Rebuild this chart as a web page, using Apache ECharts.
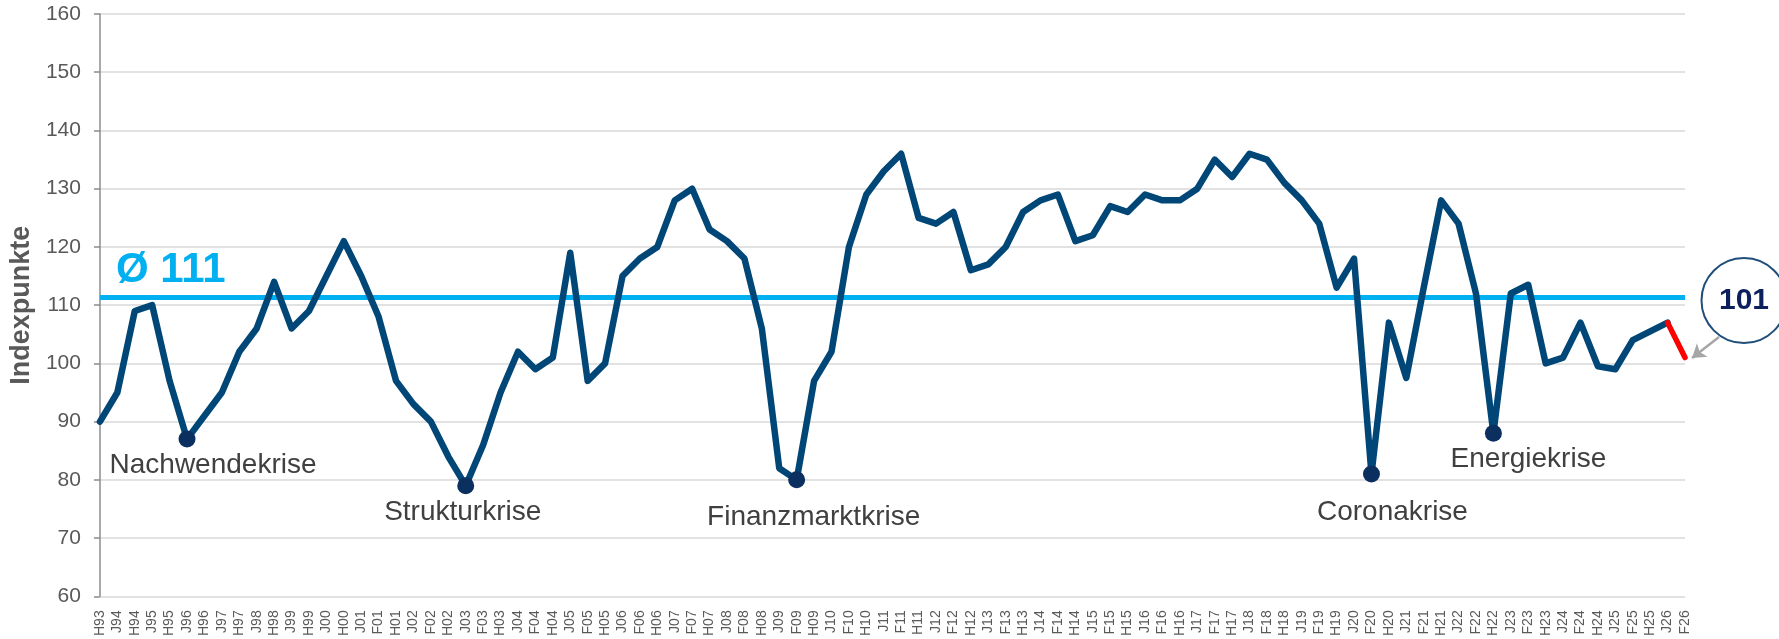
<!DOCTYPE html>
<html>
<head>
<meta charset="utf-8">
<script src="https://cdn.jsdelivr.net/npm/echarts@6/dist/echarts.min.js"></script>
<style>
  html, body { margin: 0; padding: 0; background: #fff; }
  #chart { width: 1779px; height: 639px; }
</style>
</head>
<body>
<div id="chart"></div>
<script>
// Halbjahres-/Quartalsstichtage (J = Jahresbeginn, F = Frühjahr, H = Herbst)
var categories = ['H93', 'J94', 'H94', 'J95', 'H95', 'J96', 'H96', 'J97', 'H97', 'J98', 'H98', 'J99', 'H99', 'J00', 'H00',
  'J01', 'F01', 'H01', 'J02', 'F02', 'H02', 'J03', 'F03', 'H03', 'J04', 'F04', 'H04', 'J05', 'F05', 'H05',
  'J06', 'F06', 'H06', 'J07', 'F07', 'H07', 'J08', 'F08', 'H08', 'J09', 'F09', 'H09', 'J10', 'F10', 'H10',
  'J11', 'F11', 'H11', 'J12', 'F12', 'H12', 'J13', 'F13', 'H13', 'J14', 'F14', 'H14', 'J15', 'F15', 'H15',
  'J16', 'F16', 'H16', 'J17', 'F17', 'H17', 'J18', 'F18', 'H18', 'J19', 'F19', 'H19', 'J20', 'F20', 'H20',
  'J21', 'F21', 'H21', 'J22', 'F22', 'H22', 'J23', 'F23', 'H23', 'J24', 'F24', 'H24', 'J25', 'F25', 'H25',
  'J26', 'F26'];

// Indexpunkte
var values = [90, 95, 109, 110, 97, 87, 91, 95, 102, 106, 114, 106, 109, 115, 121,
  115, 108, 97, 93, 90, 84, 79, 86, 95, 102, 99, 101, 119, 97, 100,
  115, 118, 120, 128, 130, 123, 121, 118, 106, 82, 80, 97, 102, 120, 129,
  133, 136, 125, 124, 126, 116, 117, 120, 126, 128, 129, 121, 122, 127, 126,
  129, 128, 128, 130, 135, 132, 136, 135, 131, 128, 124, 113, 118, 81, 107,
  97.5, 113, 128, 124, 112, 88, 112, 113.5, 100, 101, 107, 99.5, 99, 104, 105.5,
  107, 101];

// Durchschnitt
var average = 111.3;
var averageLabel = 'Ø 111';

// Krisen
var crisisCats = ['J96', 'J03', 'F09', 'F20', 'H22'];
var crisisNames = ['Nachwendekrise', 'Strukturkrise', 'Finanzmarktkrise', 'Coronakrise', 'Energiekrise'];

// y-Achse
var yMin = 60, yMax = 160, yStep = 10;

var FONT = '"Liberation Sans", Arial, sans-serif';
var labelOffsets = [[26, 26], [-3, 27], [17, 37], [21, 38], [35, 26]];

var last = values.length - 1;
// Hauptlinie bis zum vorletzten Wert, letzter Abschnitt rot
var mainData = values.map(function (v, i) { return i < last ? v : null; });
var latestData = values.map(function (v, i) { return i >= last - 1 ? v : null; });

var crisisData = crisisCats.map(function (c, k) {
  var idx = categories.indexOf(c);
  return {
    value: [idx, values[idx]],
    name: crisisNames[k],
    label: { offset: labelOffsets[k] }
  };
});

var option = {
  animation: false,
  grid: {
    left: 99,
    right: 94,
    top: 14,
    bottom: 41
  },
  xAxis: {
    type: 'category',
    data: categories,
    boundaryGap: false,
    axisLine: { show: false },
    axisTick: { show: false },
    axisLabel: {
      interval: 0,
      rotate: 90,
      fontSize: 14,
      margin: 14,
      color: '#595959',
      fontFamily: FONT
    },
    splitLine: { show: false }
  },
  yAxis: {
    type: 'value',
    min: yMin,
    max: yMax,
    interval: yStep,
    name: 'Indexpunkte',
    nameLocation: 'middle',
    nameRotate: 90,
    nameGap: 63,
    nameTextStyle: {
      fontSize: 27,
      fontWeight: 'bold',
      color: '#595959',
      fontFamily: FONT
    },
    axisLine: {
      show: true,
      lineStyle: { color: '#8c8c8c', width: 1.5 }
    },
    axisTick: {
      show: true,
      length: 6,
      lineStyle: { color: '#8c8c8c', width: 1.5 }
    },
    axisLabel: {
      fontSize: 21,
      margin: 19,
      color: '#595959',
      fontFamily: FONT
    },
    splitLine: {
      lineStyle: { color: '#d9d9d9', width: 1.5 }
    }
  },
  series: [{
    name: 'Index',
    type: 'line',
    data: mainData,
    symbol: 'none',
    z: 3,
    lineStyle: {
      color: '#004778',
      width: 6.5,
      join: 'round',
      cap: 'round'
    },
    markLine: {
      silent: true,
      symbol: 'none',
      z: 2,
      lineStyle: { color: '#00b0f0', width: 5, type: 'solid' },
      label: {
        show: true,
        position: 'insideStartTop',
        distance: [16, 6],
        formatter: averageLabel,
        fontSize: 42,
        fontWeight: 'bold',
        color: '#00b0f0',
        fontFamily: FONT
      },
      data: [{ yAxis: average }]
    }
  }, {
    name: 'Aktuell',
    type: 'line',
    data: latestData,
    symbol: 'none',
    z: 4,
    lineStyle: {
      color: '#ff0000',
      width: 5.5,
      cap: 'round'
    },
    markLine: {
      silent: true,
      symbol: ['none', 'arrow'],
      symbolSize: 13,
      lineStyle: { color: '#a6a6a6', width: 2.5, type: 'solid' },
      label: { show: false },
      data: [[{ x: 1719, y: 337 }, { x: 1692, y: 358 }]]
    },
    markPoint: {
      silent: true,
      symbol: 'circle',
      symbolSize: 85,
      symbolOffset: [59, -57],
      itemStyle: { color: '#ffffff', borderColor: '#1f4e79', borderWidth: 2 },
      label: {
        show: true,
        position: 'inside',
        formatter: '{c}',
        fontSize: 30,
        fontWeight: 'bold',
        color: '#0d1f5c',
        fontFamily: FONT
      },
      data: [{ coord: [last, values[last]], value: values[last] }]
    }
  }, {
    name: 'Krisen',
    type: 'scatter',
    data: crisisData,
    symbolSize: 17,
    z: 5,
    itemStyle: { color: '#0b2f5f', opacity: 1 },
    label: {
      show: true,
      position: 'inside',
      formatter: '{b}',
      fontSize: 28,
      color: '#404040',
      fontFamily: FONT
    }
  }]
};

var chart = echarts.init(document.getElementById('chart'));
chart.setOption(option);
</script>
</body>
</html>
